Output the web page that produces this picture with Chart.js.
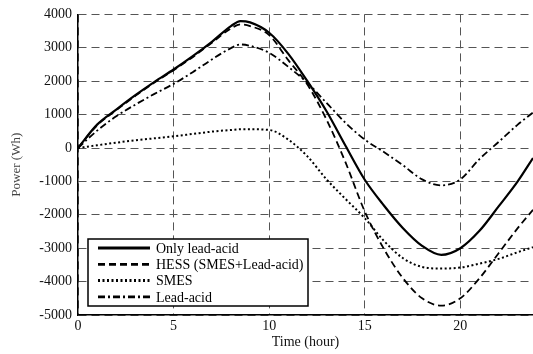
<!DOCTYPE html>
<html>
<head>
<meta charset="utf-8">
<script src="https://cdn.jsdelivr.net/npm/chart.js@4.4.1/dist/chart.umd.min.js"></script>
<style>
  html, body { margin: 0; padding: 0; background: #fff; }
  #wrap { width: 533px; height: 354px; }
</style>
</head>
<body>
<div id="wrap"><canvas id="chart" width="533" height="354"></canvas></div>
<script>
// time axis (hours)
const hours = [0, 1, 2, 3, 4, 5, 6, 7, 8, 8.5, 9, 10, 11, 12, 13, 14, 15, 16, 17, 18, 19, 20, 21, 22, 23, 23.8]

// power (Wh) per series
const onlyLeadAcid = [0, 700, 1150, 1580, 1980, 2350, 2750, 3180, 3650, 3800, 3760, 3450, 2820, 2000, 1100, 60, -950, -1720, -2400, -2930, -3200, -3000, -2480, -1750, -1000, -300]
const hess = [0, 680, 1130, 1560, 1960, 2330, 2720, 3150, 3580, 3700, 3650, 3380, 2630, 1900, 850, -440, -1900, -3020, -3900, -4500, -4720, -4500, -3900, -3150, -2400, -1850]
const smes = [0, 80, 160, 230, 290, 350, 420, 490, 540, 560, 560, 540, 250, -250, -940, -1530, -2100, -2780, -3300, -3560, -3610, -3580, -3460, -3320, -3120, -2970]
const leadAcid = [0, 520, 950, 1300, 1620, 1920, 2270, 2650, 2990, 3100, 3060, 2850, 2430, 1950, 1350, 750, 250, -120, -520, -940, -1120, -940, -330, 180, 700, 1060]

const seriesLabels = ['Only lead-acid', 'HESS (SMES+Lead-acid)', 'SMES', 'Lead-acid']

const xTicks = [0, 5, 10, 15, 20]
const yTicks = [4000, 3000, 2000, 1000, 0, -1000, -2000, -3000, -4000, -5000]

const serif = 'Liberation Serif'

const styling = [
  { borderWidth: 2.2, borderDash: [] },
  { borderWidth: 1.8, borderDash: [7, 4] },
  { borderWidth: 2, borderDash: [2, 2.5] },
  { borderWidth: 1.8, borderDash: [7, 3, 2, 3] },
]

const toPoints = (values) => values.map((v, i) => ({ x: hours[i], y: v }))

const datasets = [onlyLeadAcid, hess, smes, leadAcid].map((values, i) => ({
  label: seriesLabels[i],
  data: toPoints(values),
  borderColor: '#000',
  pointRadius: 0,
  fill: false,
  cubicInterpolationMode: 'monotone',
  ...styling[i],
}))

// legend box drawn inside the plot, bottom-left
const boxLegend = {
  id: 'boxLegend',
  afterDatasetsDraw(chart) {
    const { ctx } = chart
    const x = 88
    const y = 239
    const w = 220
    const h = 67
    ctx.save()
    ctx.fillStyle = '#fff'
    ctx.fillRect(x, y, w, h)
    ctx.strokeStyle = '#000'
    ctx.lineWidth = 1.5
    ctx.setLineDash([])
    ctx.strokeRect(x, y, w, h)
    ctx.font = `14px "${serif}"`
    ctx.textBaseline = 'middle'
    ctx.fillStyle = '#000'
    chart.data.datasets.forEach((d, i) => {
      const rowY = y + 9 + i * 16.3
      ctx.beginPath()
      ctx.lineWidth = d.borderWidth + 1
      ctx.setLineDash(d.borderDash)
      ctx.moveTo(98, rowY)
      ctx.lineTo(150, rowY)
      ctx.stroke()
      ctx.setLineDash([])
      ctx.fillText(d.label, 156, rowY + 1)
    })
    ctx.restore()
  },
}

new Chart(document.getElementById('chart'), {
  type: 'line',
  data: { datasets },
  options: {
    responsive: false,
    animation: false,
    devicePixelRatio: 1,
    layout: { padding: { top: 11, right: 0, bottom: 0, left: 0 } },
    plugins: {
      legend: { display: false },
      tooltip: { enabled: false },
    },
    scales: {
      x: {
        type: 'linear',
        min: 0,
        max: 23.8,
        afterBuildTicks: (scale) => { scale.ticks = xTicks.map((v) => ({ value: v })) },
        afterFit: (scale) => { scale.height = 39 },
        ticks: {
          includeBounds: false,
          color: '#111',
          padding: 3,
          maxRotation: 0,
          font: { family: serif, size: 14 },
          callback: (v) => String(v),
        },
        grid: { color: '#555', lineWidth: 1, drawTicks: false },
        border: { display: true, color: '#000', width: 1.5, dash: [8, 5] },
        title: {
          display: true,
          text: 'Time (hour)',
          color: '#111',
          font: { family: serif, size: 14 },
          padding: { top: 0, bottom: 3 },
        },
      },
      y: {
        min: -5000,
        max: 4000,
        afterBuildTicks: (scale) => { scale.ticks = yTicks.map((v) => ({ value: v })) },
        afterFit: (scale) => { scale.width = 78 },
        ticks: {
          color: '#111',
          padding: 6,
          font: { family: serif, size: 14 },
          callback: (v) => String(v),
        },
        grid: { color: '#555', lineWidth: 1, drawTicks: false },
        border: { display: true, color: '#000', width: 1.5, dash: [8, 5] },
        title: {
          display: true,
          text: 'Power (Wh)',
          color: '#444',
          font: { family: serif, size: 13 },
          padding: { top: 9, bottom: 0 },
        },
      },
    },
  },
  plugins: [boxLegend],
})
</script>
</body>
</html>
